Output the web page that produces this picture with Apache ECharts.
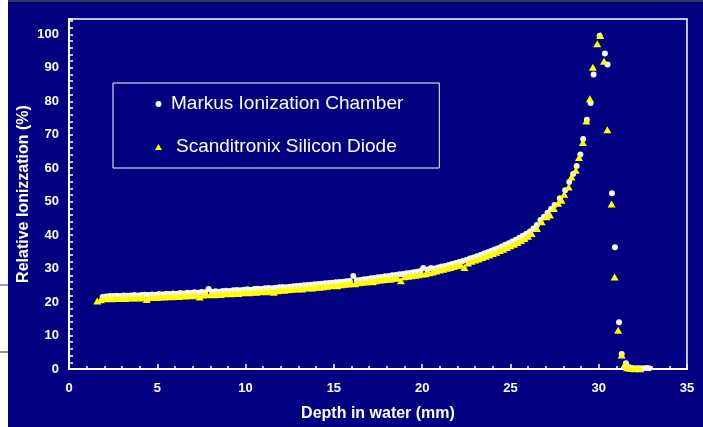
<!DOCTYPE html>
<html>
<head>
<meta charset="utf-8">
<script src="https://cdn.jsdelivr.net/npm/echarts@6/dist/echarts.min.js"></script>
<style>
html,body{margin:0;padding:0;background:#000080;}
#chart{width:703px;height:427px;}
</style>
</head>
<body>
<div id="chart"></div>
<script>
// Series names
const seriesNames = ['Markus Ionization Chamber', 'Scanditronix Silicon Diode'];

// Axis settings / tick labels
const xTicks = [0, 5, 10, 15, 20, 25, 30, 35];
const yTicks = [0, 10, 20, 30, 40, 50, 60, 70, 80, 90, 100];
const xTitle = 'Depth in water (mm)';
const yTitle = 'Relative Ionizzation (%)';

// Markus Ionization Chamber: [depth (mm), relative ionization (%)]
const markusData = [
  [1.9,21.5],[2.1,21.7],[2.3,21.8],[2.5,21.8],[2.7,21.9],[2.9,21.8],[3.1,22.0],[3.3,21.9],[3.5,22.0],[3.7,22.1],
  [3.9,22.0],[4.1,22.1],[4.3,22.2],[4.5,22.1],[4.7,22.3],[4.9,22.2],[5.1,22.4],[5.3,22.3],[5.5,22.5],[5.7,22.4],
  [5.9,22.6],[6.1,22.5],[6.3,22.7],[6.5,22.6],[6.7,22.8],[6.9,22.7],[7.1,22.9],[7.3,22.8],[7.5,23.0],[7.7,22.9],
  [7.9,23.9],[8.1,23.1],[8.3,23.2],[8.5,23.1],[8.7,23.3],[8.9,23.4],[9.1,23.3],[9.3,23.5],[9.5,23.6],[9.7,23.5],
  [9.9,23.7],[10.1,23.8],[10.3,23.7],[10.5,23.9],[10.7,24.0],[10.9,23.9],[11.1,24.1],[11.3,24.2],[11.5,24.1],[11.7,24.3],
  [11.9,24.4],[12.1,24.5],[12.3,24.4],[12.5,24.6],[12.7,24.7],[12.9,24.8],[13.1,24.9],[13.3,25.0],[13.5,25.1],[13.7,25.2],
  [13.9,25.3],[14.1,25.4],[14.3,25.5],[14.5,25.6],[14.7,25.7],[14.9,25.8],[15.1,25.9],[15.3,26.0],[15.5,26.1],[15.7,26.2],
  [15.9,26.3],[16.1,27.8],[16.3,26.5],[16.5,26.6],[16.7,26.8],[16.9,26.9],[17.1,27.1],[17.3,27.2],[17.5,27.4],[17.7,27.5],
  [17.9,27.7],[18.1,27.8],[18.3,28.0],[18.5,28.1],[18.7,28.3],[18.9,28.4],[19.1,28.6],[19.3,28.7],[19.5,28.9],[19.7,29.1],
  [19.9,29.3],[20.06,30.2],[20.3,29.7],[20.5,30.2],[20.7,30.0],[20.9,30.3],[21.1,30.6],[21.3,30.8],[21.5,31.1],[21.7,31.4],
  [21.9,31.7],[22.1,32.0],[22.3,32.3],[22.5,32.6],[22.7,33.0],[22.9,33.3],[23.1,33.7],[23.3,34.1],[23.5,34.5],[23.7,34.9],
  [23.9,35.3],[24.1,35.7],[24.3,36.1],[24.5,36.6],[24.7,37.1],[24.9,37.6],[25.1,38.1],[25.3,38.6],[25.5,39.2],[25.7,39.8],
  [25.9,40.4],[26.1,41.1],[26.3,42.0],[26.5,43.0],[26.7,44.5],[26.9,45.5],[27.1,46.7],[27.3,47.8],[27.5,49.0],[27.8,51.0],
  [28.1,53.4],[28.33,55.9],[28.55,58.3],[28.75,60.7],[28.96,64.1],[29.12,68.7],[29.33,74.5],[29.54,79.5],[29.71,88.0],[30.05,99.6],
  [30.35,94.3],[30.5,91.0],[30.75,52.5],[30.92,36.4],[31.15,14.0],[31.3,4.5],[31.54,1.7],[31.7,0.6],[31.9,0.3],[32.1,0.2],
  [32.3,0.2],[32.5,0.2],[32.7,0.3],[32.85,0.2]
];

// Scanditronix Silicon Diode: [depth (mm), relative ionization (%)]
const diodeData = [
  [1.6,20.3],[1.8,20.7],[2.0,21.0],[2.2,21.1],[2.4,21.0],[2.6,21.2],[2.8,21.1],[3.0,21.2],[3.2,21.1],[3.4,21.3],
  [3.6,21.2],[3.8,21.3],[4.0,21.2],[4.2,21.4],[4.4,20.8],[4.6,21.4],[4.8,21.5],[5.0,21.4],[5.2,21.6],[5.4,21.5],
  [5.6,21.7],[5.8,21.6],[6.0,21.8],[6.2,21.7],[6.4,21.9],[6.6,21.8],[6.8,22.0],[7.0,21.9],[7.2,22.1],[7.4,21.5],
  [7.6,22.1],[7.8,22.2],[8.0,22.3],[8.2,22.2],[8.4,22.4],[8.6,22.3],[8.8,22.5],[9.0,22.6],[9.2,22.5],[9.4,22.7],
  [9.6,22.6],[9.8,22.8],[10.0,22.9],[10.2,22.8],[10.4,23.0],[10.6,22.9],[10.8,23.1],[11.0,23.2],[11.2,23.1],[11.4,23.3],
  [11.6,22.9],[11.8,23.4],[12.0,23.6],[12.2,23.5],[12.4,23.7],[12.6,23.8],[12.8,23.9],[13.0,24.0],[13.2,23.9],[13.4,24.2],
  [13.6,24.3],[13.8,24.2],[14.0,24.5],[14.2,24.4],[14.4,24.6],[14.6,24.7],[14.8,24.9],[15.0,25.0],[15.2,24.9],[15.4,25.2],
  [15.6,25.3],[15.8,25.4],[16.0,25.6],[16.2,25.5],[16.4,25.8],[16.6,25.9],[16.8,26.0],[17.0,26.2],[17.2,26.1],[17.4,26.4],
  [17.6,26.6],[17.8,26.7],[18.0,26.9],[18.2,26.8],[18.4,27.1],[18.6,27.2],[18.8,26.4],[19.0,27.6],[19.2,27.7],[19.4,27.9],
  [19.6,28.0],[19.8,28.2],[20.0,28.4],[20.2,28.5],[20.4,28.8],[20.6,29.0],[20.8,29.3],[21.0,29.6],[21.2,29.8],[21.4,30.1],
  [21.6,30.3],[21.8,30.6],[22.0,31.0],[22.2,31.1],[22.4,30.3],[22.6,31.7],[22.8,32.2],[23.0,32.6],[23.2,32.9],[23.4,33.3],
  [23.6,33.7],[23.8,34.1],[24.0,34.5],[24.2,34.9],[24.4,35.4],[24.6,35.8],[24.8,36.3],[25.0,36.8],[25.2,37.3],[25.4,37.8],
  [25.6,38.4],[25.8,39.0],[26.0,39.7],[26.2,40.5],[26.5,42.0],[26.77,44.0],[27.05,45.5],[27.24,46.0],[27.46,48.0],[27.7,49.5],
  [27.9,50.4],[28.05,52.2],[28.3,54.4],[28.46,57.4],[28.7,59.4],[28.88,63.2],[29.1,67.7],[29.3,74.1],[29.5,80.8],[29.67,90.2],
  [29.92,97.2],[30.09,99.7],[30.3,92.0],[30.49,71.5],[30.73,49.3],[30.9,27.5],[31.1,11.6],[31.3,4.2],[31.45,1.2],[31.6,0.4],
  [31.75,0.2],[31.9,0.2],[32.05,0.1],[32.2,0.2],[32.35,0.1]
];

const FONT = '"Liberation Sans", Arial, sans-serif';
const chart = echarts.init(document.getElementById('chart'), null, {renderer: 'canvas'});

const option = {
  backgroundColor: '#000080',
  animation: false,
  textStyle: {fontFamily: FONT},
  grid: {
    left: 69, right: 16, top: 19, bottom: 58,
    show: true, borderColor: '#ffffff', borderWidth: 1.5,
    backgroundColor: 'transparent'
  },
  legend: {
    orient: 'vertical',
    left: 113, top: 83,
    padding: [10, 36, 10, 42],
    itemGap: 21,
    itemWidth: 7, itemHeight: 6,
    borderColor: '#ffffff', borderWidth: 1,
    textStyle: {color: '#ffffff', fontSize: 19, fontFamily: FONT, lineHeight: 22},
    data: [
      {name: seriesNames[0], icon: 'circle', textStyle: {padding: [0, 0, 0, 4]}},
      {name: seriesNames[1], icon: 'triangle', textStyle: {padding: [0, 0, 0, 9]}}
    ]
  },
  xAxis: {
    type: 'value',
    min: xTicks[0], max: xTicks[xTicks.length - 1], interval: xTicks[1] - xTicks[0],
    name: xTitle, nameLocation: 'middle', nameGap: 37, nameMoveOverlap: false,
    nameTextStyle: {color: '#ffffff', fontWeight: 'bold', fontSize: 16, fontFamily: FONT},
    axisLine: {show: true, lineStyle: {color: '#ffffff', width: 2}},
    axisTick: {show: true, inside: true, length: 5, lineStyle: {color: '#ffffff', width: 1.5}},
    minorTick: {show: true, splitNumber: 5, length: 3, lineStyle: {color: '#ffffff', width: 1.5}},
    splitLine: {show: false},
    axisLabel: {color: '#ffffff', fontWeight: 'bold', fontSize: 13, margin: 13, fontFamily: FONT}
  },
  yAxis: {
    type: 'value',
    min: yTicks[0], max: 104.6, interval: yTicks[1] - yTicks[0],
    name: yTitle, nameLocation: 'middle', nameGap: 37, nameMoveOverlap: false,
    nameTextStyle: {color: '#ffffff', fontWeight: 'bold', fontSize: 16, fontFamily: FONT},
    axisLine: {show: true, lineStyle: {color: '#ffffff', width: 2}},
    axisTick: {show: true, inside: true, length: 4, lineStyle: {color: '#ffffff', width: 1.5}},
    minorTick: {show: true, splitNumber: 5, length: 4, lineStyle: {color: '#ffffff', width: 1.5}},
    splitLine: {show: false},
    axisLabel: {
      color: '#ffffff', fontWeight: 'bold', fontSize: 13, margin: 10, fontFamily: FONT,
      formatter: function (v) { return yTicks.indexOf(v) >= 0 ? String(v) : ''; }
    }
  },
  series: [
    {
      name: seriesNames[0], type: 'scatter', symbol: 'circle', symbolSize: 6,
      itemStyle: {color: '#f6f6ff', opacity: 1},
      data: markusData
    },
    {
      name: seriesNames[1], type: 'scatter', symbol: 'triangle', symbolSize: [8, 7],
      itemStyle: {color: '#ffff00', opacity: 1},
      data: diodeData
    }
  ],
  graphic: [
    {type: 'rect', left: 0, top: 0, shape: {width: 8, height: 427}, style: {fill: '#ffffff'}, silent: true},
    {type: 'rect', left: 8, top: 0, shape: {width: 695, height: 2}, style: {fill: '#2e3a58'}, silent: true},
    {type: 'line', shape: {x1: 0, y1: 285, x2: 8, y2: 285}, style: {stroke: '#3030c0', lineWidth: 1}, silent: true},
    {type: 'line', shape: {x1: 0, y1: 352, x2: 8, y2: 352}, style: {stroke: '#202020', lineWidth: 1}, silent: true}
  ]
};
chart.setOption(option);
</script>
</body>
</html>
